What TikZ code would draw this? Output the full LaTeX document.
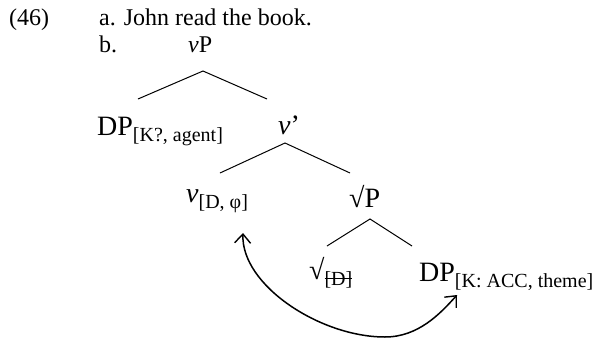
\documentclass[tikz,border=0pt]{standalone}
\usepackage{fontspec}
\setmainfont{Liberation Serif}
\usetikzlibrary{arrows.meta}
\newcommand{\sbs}[1]{\raisebox{-0.22em}{\fontsize{20}{22}\selectfont #1}}
\begin{document}
\begin{tikzpicture}[x=1pt,y=-1pt,
  txt/.style={inner sep=0pt,anchor=base west,font=\fontsize{24}{28}\selectfont},
  lab/.style={inner sep=0pt,anchor=base west,font=\fontsize{28}{30}\selectfont},
  branch/.style={line width=1pt},
  mv/.style={line width=1.5pt,{Straight Barb[length=9pt,width=16pt,line width=1.4pt]}-{Straight Barb[length=9pt,width=16pt,line width=1.4pt]}}]
\useasboundingbox (0,0) rectangle (598,338);
\node[txt] (num) at (9,25) {(46)};
\node[txt] (a) at (99,25) {a. John read the book.};
\node[txt] (b) at (99,52) {b.};
\node[txt] (vP) at (188,52) {\textit{v}P};
\coordinate (t1) at (203,71);
\coordinate (t1l) at (138,99);
\coordinate (t1r) at (267,99);
\draw[branch] (t1l) -- (t1) -- (t1r);
\node[lab] (dp1) at (97,135) {DP\sbs{[K?, agent]}};
\node[lab] (vbar) at (278,134) {\textit{v}’};
\coordinate (t2) at (285,143);
\coordinate (t2l) at (220,173);
\coordinate (t2r) at (350,173);
\draw[branch] (t2l) -- (t2) -- (t2r);
\node[lab] (v) at (186,202) {\textit{v}\sbs{[D, φ]}};
\node[lab] (rP) at (349,207) {√P};
\coordinate (t3) at (370,219);
\coordinate (t3l) at (327,246);
\coordinate (t3r) at (412,246);
\draw[branch] (t3l) -- (t3) -- (t3r);
\node[lab] (rD) at (309,279) {√\sbs{\rlap{\rule[0.3em]{1.35em}{0.9pt}}[D]}};
\node[lab] (dp2) at (419,281) {DP\sbs{[K: ACC, theme]}};
\coordinate (arrL) at (243,233);
\coordinate (arrB) at (385,337);
\coordinate (arrR) at (457,295);
\draw[mv] (arrL) .. controls (241,285) and (320,337) .. (arrB) .. controls (418,337) and (440,314) .. (arrR);
\end{tikzpicture}
\end{document}
